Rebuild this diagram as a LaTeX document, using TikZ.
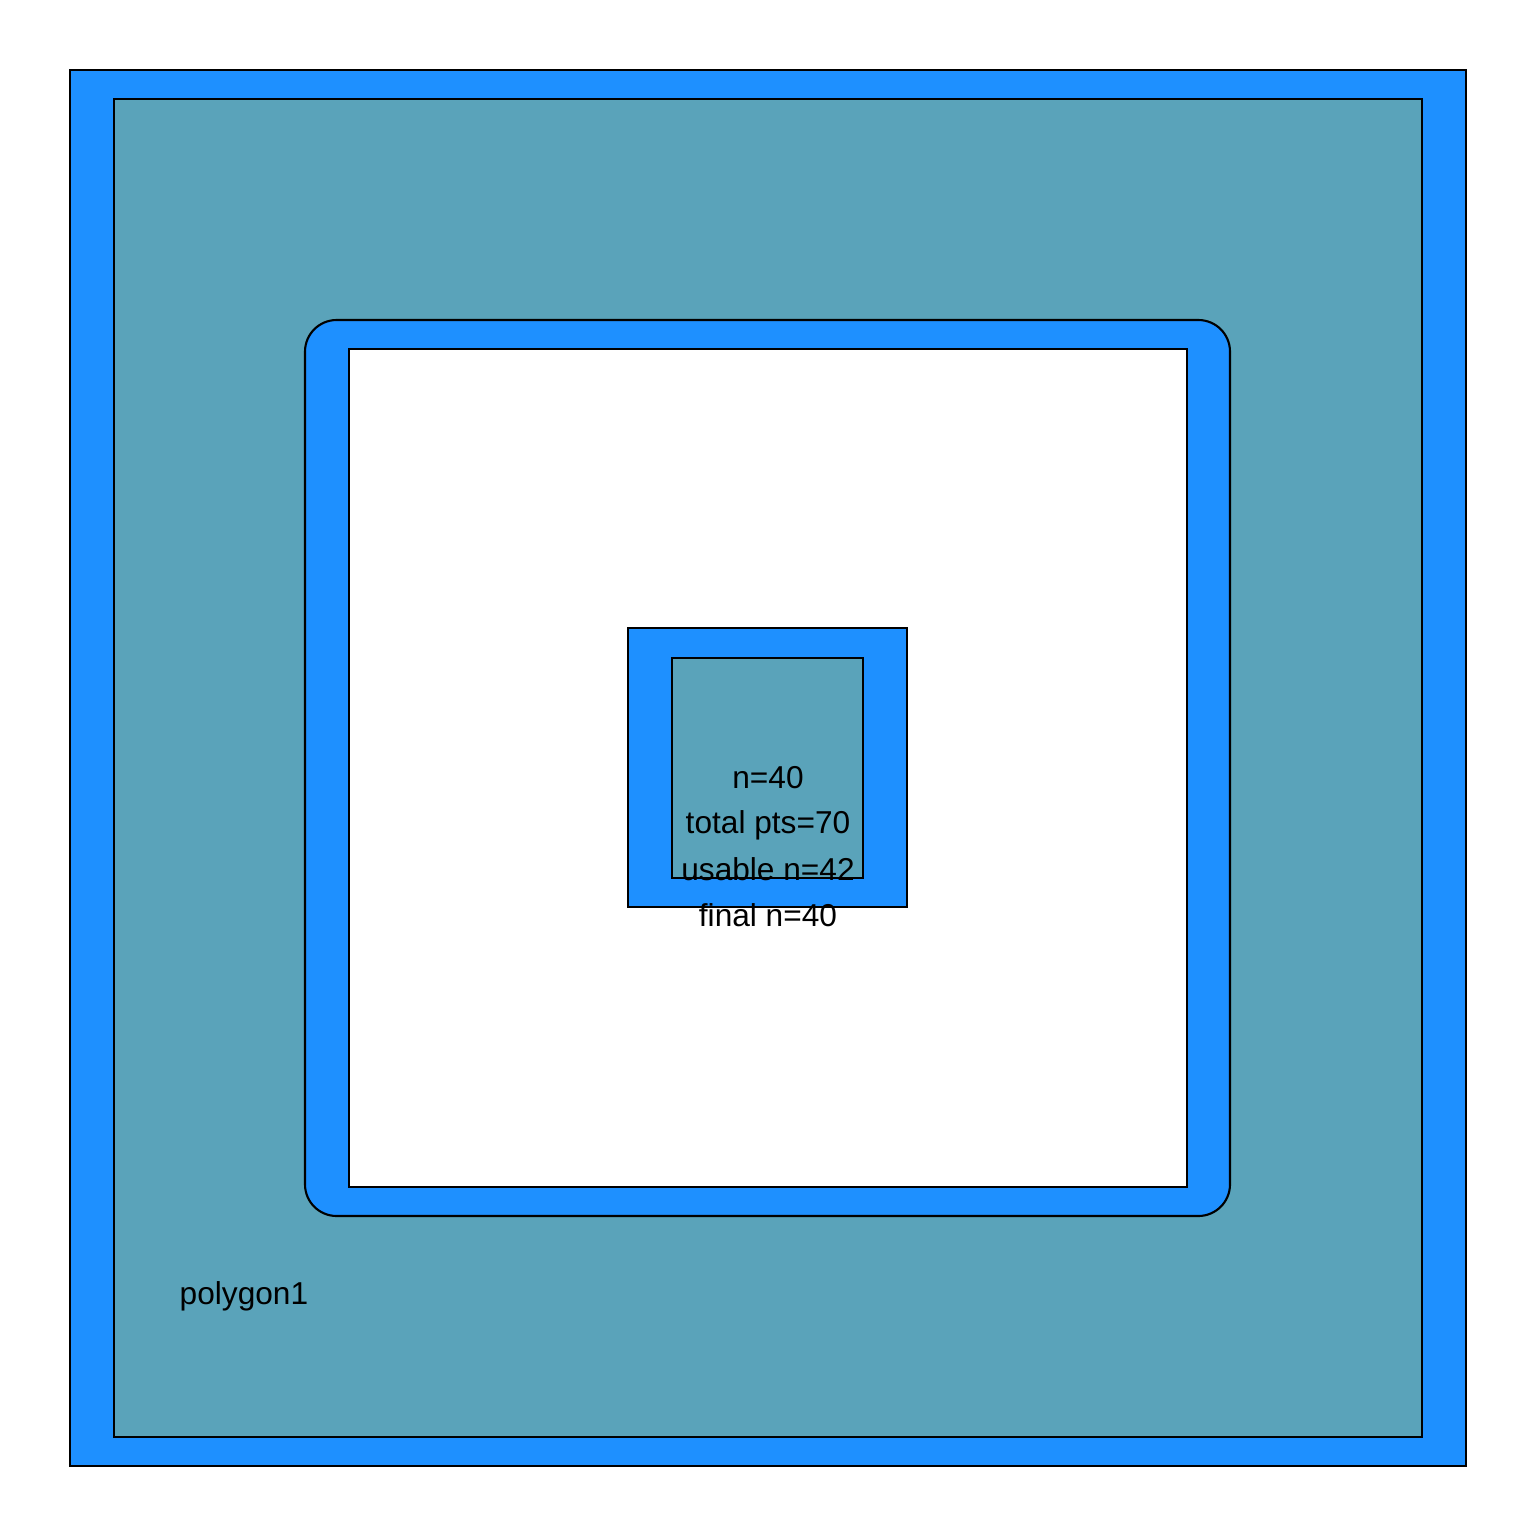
\documentclass[tikz,border=0pt]{standalone}
\usepackage{fontspec}
\setmainfont{Liberation Sans}
\usepackage{xcolor}
\usepackage{tikz}
\definecolor{bleu}{HTML}{1E90FF}
\definecolor{sarcelle}{HTML}{5AA3BA}

\begin{document}
\begin{tikzpicture}[x=0.01cm, y=-0.01cm,
    cadre/.style={draw=black, line width=0.6pt},
    etiquette/.style={font=\fontsize{9}{11}\selectfont, inner sep=0pt}]
    \useasboundingbox (0,0) rectangle (1536,1536);
    % Zone externe
    \filldraw[cadre, fill=bleu] (70,70) rectangle (1466,1466);
    \filldraw[cadre, fill=sarcelle] (114,99) rectangle (1422,1437);
    % Zone centrale
    \filldraw[cadre, fill=bleu, rounded corners=9pt] (305,320) rectangle (1230,1216);
    \filldraw[cadre, fill=white] (349,349) rectangle (1187,1187);
    % Petit polygone
    \filldraw[cadre, fill=bleu] (628,628) rectangle (907,907);
    \filldraw[cadre, fill=sarcelle] (672,658) rectangle (863,878);
    % Textes
    \node[etiquette] (n) at (768,778) {n=40};
    \node[etiquette] (total) at (768,825) {total pts=70};
    \node[etiquette] (usable) at (768,869) {usable n=42};
    \node[etiquette] (final) at (768,915) {final n=40};
    \node[etiquette, anchor=west] (poly) at (179,1296) {polygon1};
  \end{tikzpicture}
\end{document}
